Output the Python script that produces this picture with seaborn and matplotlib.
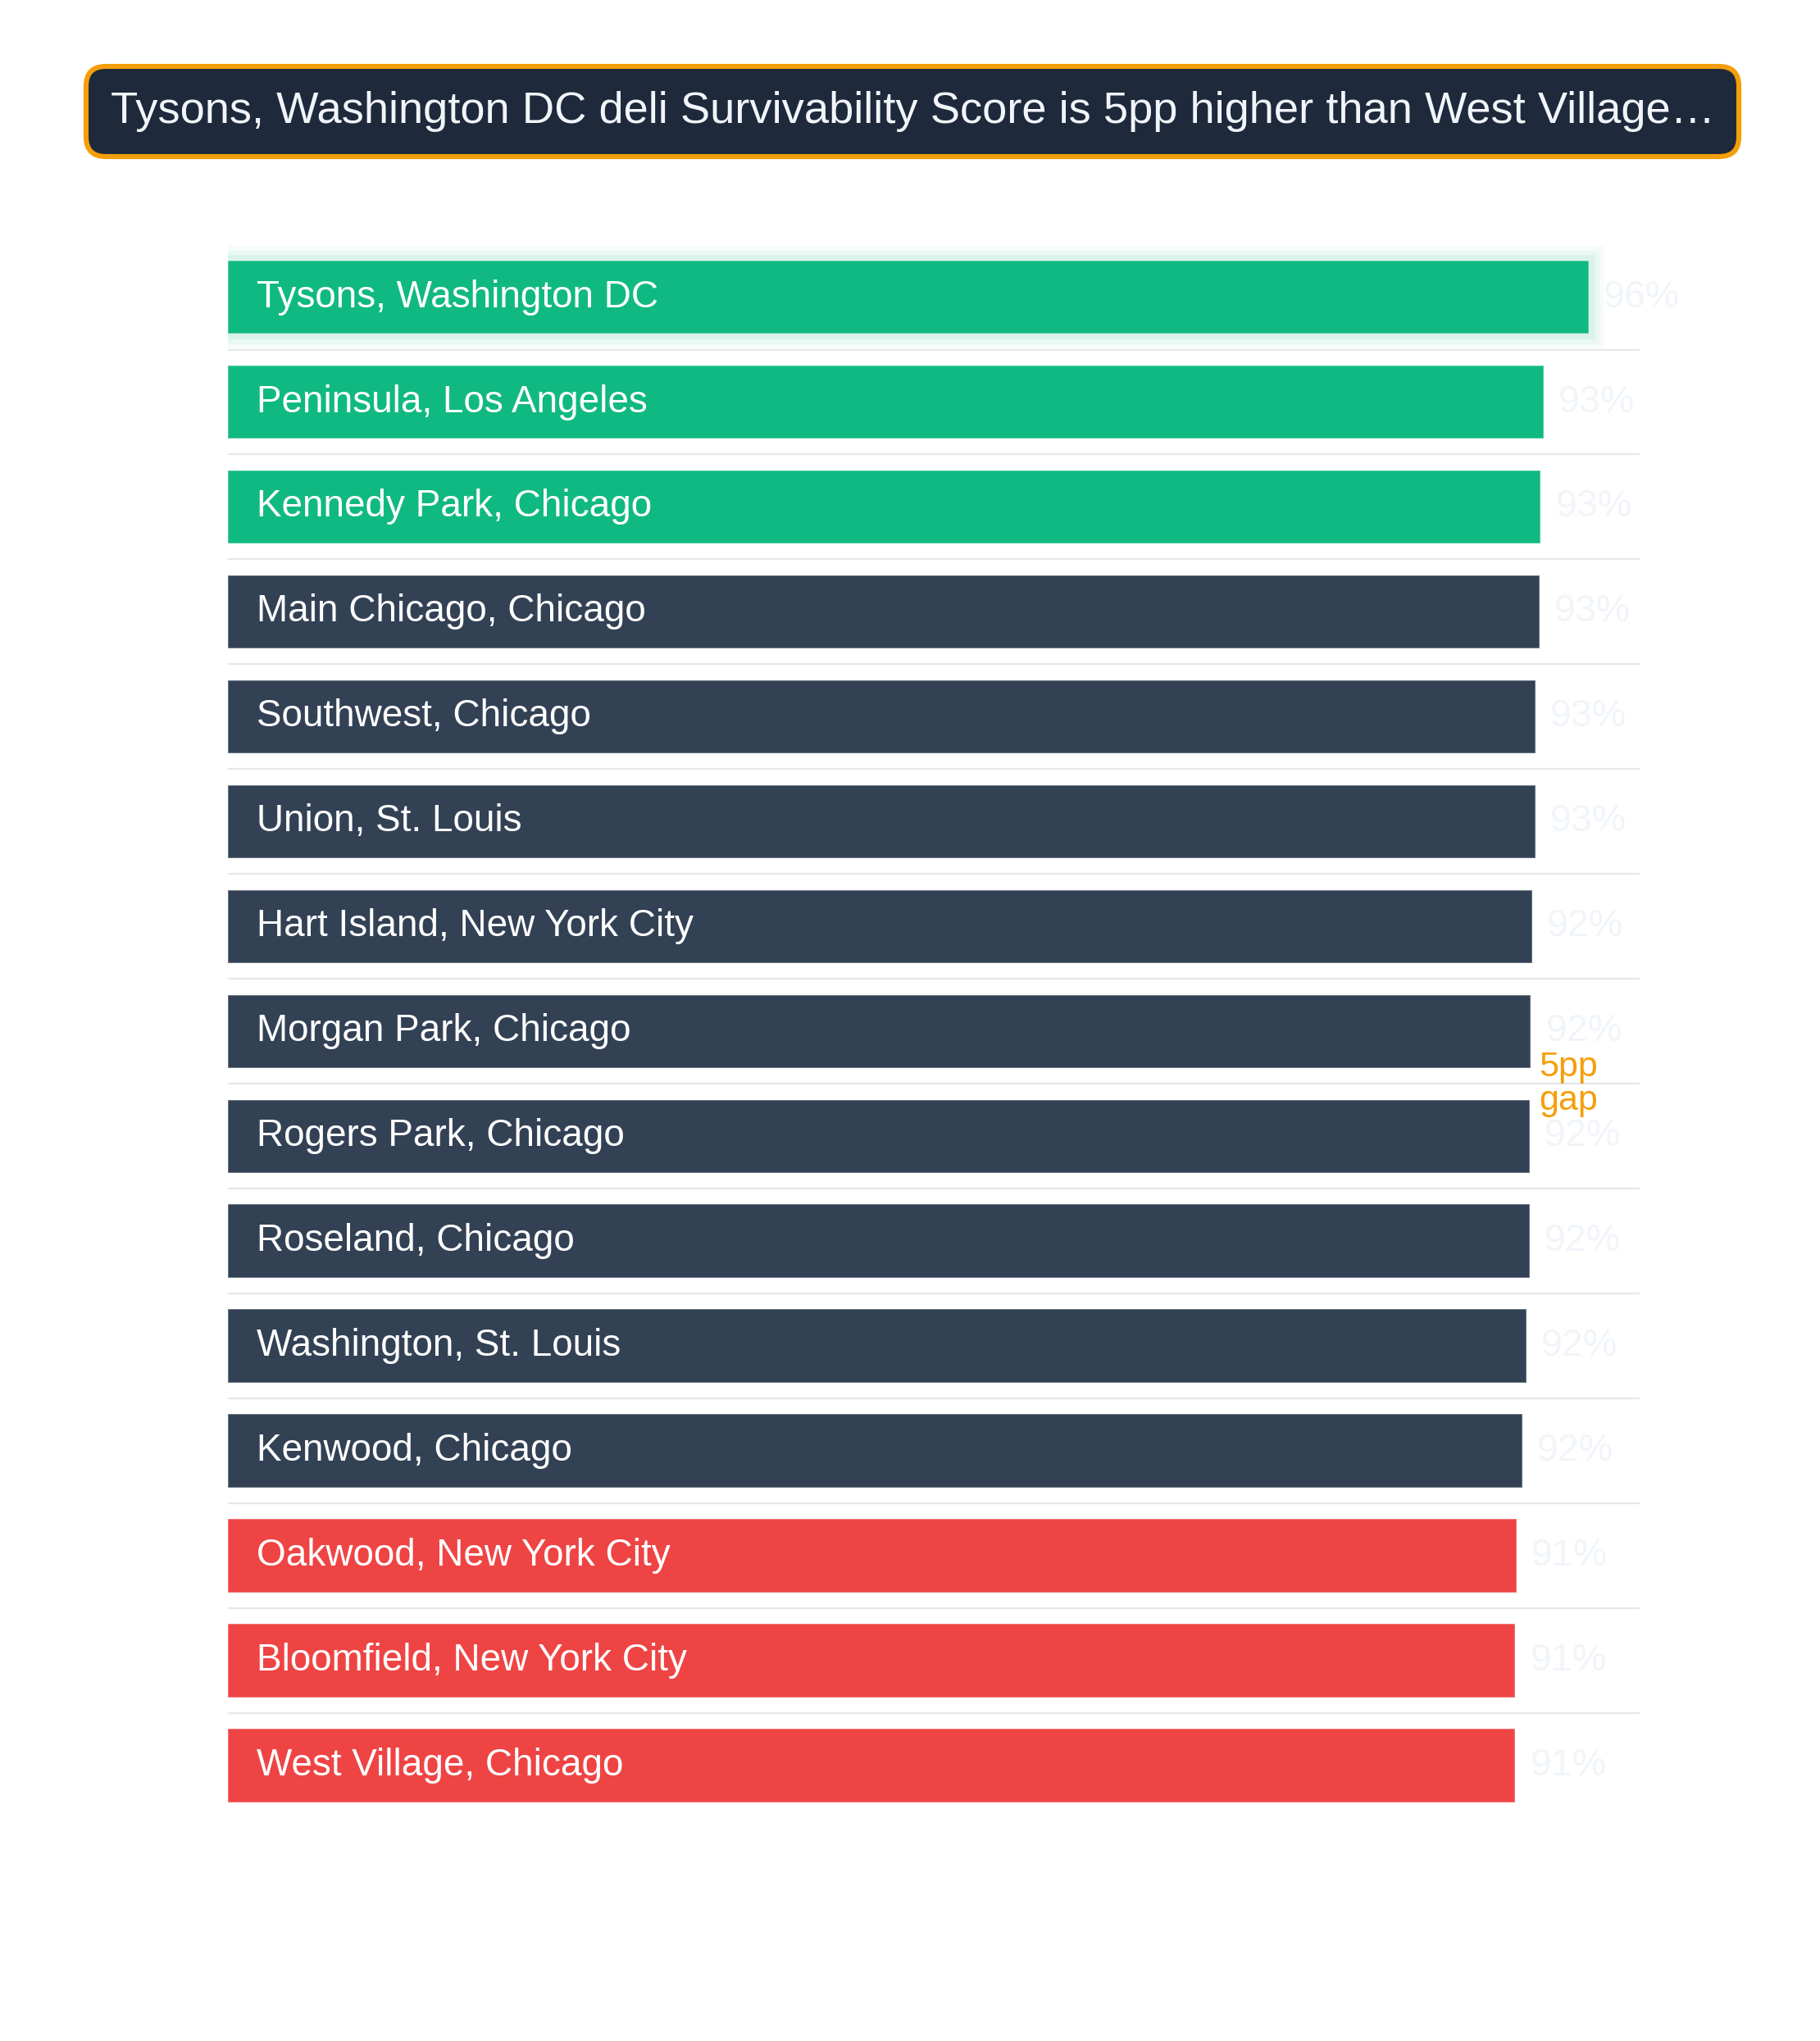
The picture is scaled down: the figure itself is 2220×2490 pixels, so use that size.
import matplotlib
matplotlib.use("Agg")
import matplotlib.pyplot as plt
import matplotlib.patheffects as pe
from matplotlib.patches import FancyBboxPatch
import seaborn as sns
import pandas as pd

# data
neighborhoods = [
    "Tysons, Washington DC", "Peninsula, Los Angeles", "Kennedy Park, Chicago",
    "Main Chicago, Chicago", "Southwest, Chicago", "Union, St. Louis",
    "Hart Island, New York City", "Morgan Park, Chicago", "Rogers Park, Chicago",
    "Roseland, Chicago", "Washington, St. Louis", "Kenwood, Chicago",
    "Oakwood, New York City", "Bloomfield, New York City", "West Village, Chicago",
]
scores = [96.4, 93.2, 93.0, 92.9, 92.6, 92.6, 92.4, 92.3, 92.2, 92.2,
          92.0, 91.7, 91.3, 91.2, 91.2]
groups = ["top"] * 3 + ["mid"] * 9 + ["bottom"] * 3
group_colors = {"top": "#10b981", "mid": "#334155", "bottom": "#ef4444"}

df = pd.DataFrame({"name": neighborhoods, "score": scores, "group": groups})
gap = df["score"].max() - df["score"].min()
title = (f"{df['name'].iloc[0]} deli Survivability Score is {gap:.0f}pp higher "
         f"than {df['name'].iloc[-1].split(',')[0]}\u2026")

sns.set_theme(style="white")
plt.rcParams["font.family"] = ["Liberation Sans", "DejaVu Sans"]

DPI = 200
fig = plt.figure(figsize=(11.1, 12.45), dpi=DPI)
ax = fig.add_axes([0.1252, 0.1092, 0.7757, 0.7709])

palette = [group_colors[g] for g in df["group"]]
sns.barplot(data=df, x="score", y="name", hue="name", palette=palette,
            legend=False, width=0.7, orient="h", ax=ax,
            edgecolor=(1, 1, 1, 0.35), linewidth=0.6, saturation=1)

ax.set_xlim(0, 100)
ax.set_ylim(len(df) - 0.5, -0.5)
ax.set_axis_off()

# glow on the leader
lead = ax.patches[0]
lead.set_path_effects([
    pe.Stroke(linewidth=13, foreground="#10b981", alpha=0.04),
    pe.Stroke(linewidth=9, foreground="#10b981", alpha=0.05),
    pe.Stroke(linewidth=5, foreground="#10b981", alpha=0.07),
    pe.Normal(),
])

# row separators
for i in range(len(df) - 1):
    ax.axhline(i + 0.5, color="#e5e7eb", lw=0.8, zorder=0)

for i, row in df.iterrows():
    ax.annotate(row["name"], xy=(0, i), xytext=(12.5, 0), textcoords="offset points",
                va="center", ha="left", color="white", fontsize=16.5)
    ax.annotate(f"{row['score']:.0f}%", xy=(row["score"], i), xytext=(6.5, 0),
                textcoords="offset points", va="center", ha="left",
                color="#f1f5f9", fontsize=16.8)

ax.annotate(f"{gap:.0f}pp\ngap", xy=(df["score"].min(), (len(df) - 1) / 2 + 0.5),
            xytext=(10.4, 0), textcoords="offset points", va="center", ha="left",
            color="#f59e0b", fontsize=15.5, linespacing=1.05, annotation_clip=False)

# title box (inches from figure corner)
box = FancyBboxPatch((0.525, 11.495), 10.08, 0.55,
                     boxstyle="round,pad=0,rounding_size=0.12",
                     transform=fig.dpi_scale_trans, facecolor="#1e293b",
                     edgecolor="#f59e0b", linewidth=2.2)
fig.patches.append(box)
fig.text(0.675, 11.77, title, transform=fig.dpi_scale_trans, va="center",
         ha="left", color="#f1f5f9", fontsize=19.6)

fig.savefig("out.png", dpi=DPI, facecolor="white")
